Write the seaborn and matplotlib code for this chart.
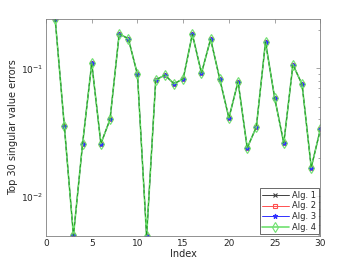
import numpy as np
import pandas as pd
import matplotlib
matplotlib.use("Agg")
import matplotlib.pyplot as plt
import seaborn as sns

# Values (all four algorithms coincide)
index = list(range(1, 31))
errors = [0.244, 0.0356, 0.00494, 0.0258, 0.110, 0.0258, 0.040, 0.186, 0.171, 0.0897,
          0.0049, 0.0815, 0.0886, 0.0759, 0.083, 0.185, 0.0919, 0.170, 0.0824, 0.041,
          0.079, 0.0239, 0.0349, 0.161, 0.0589, 0.0261, 0.107, 0.075, 0.0168, 0.0334]
algs = ["Alg. 1", "Alg. 2", "Alg. 3", "Alg. 4"]

sns.set_style("white")
plt.rcParams["font.family"] = ["DejaVu Sans"]

fig = plt.figure(figsize=(3.54, 2.66), dpi=100)
ax = fig.add_axes([0.130, 0.113, 0.775, 0.816])

styles = {
    "Alg. 1": dict(color="#404040", marker="x", mfc="none", lw=0.7, ms=3),
    "Alg. 2": dict(color="#ff5050", marker="s", mfc="none", lw=0.7, ms=2.6),
    "Alg. 3": dict(color="#3030ff", marker="*", mfc="#3030ff", lw=0.7, ms=3.5),
    "Alg. 4": dict(color="#70e070", marker="d", mfc="none", lw=1.2, ms=4.6),
}
for a in algs:
    df = pd.DataFrame({"Index": index, "err": errors})
    st = styles[a]
    sns.lineplot(data=df, x="Index", y="err", ax=ax, label=a, color=st["color"],
                 marker=st["marker"], markerfacecolor=st["mfc"],
                 markeredgecolor=st["color"], markersize=st["ms"], linewidth=st["lw"],
                 markeredgewidth=0.8)
# dark green core visible along the lines
ax.plot(index, errors, color="#1a9a1a", lw=0.6, dashes=(4, 3), zorder=3)

ax.set_yscale("log")
ax.set_xlim(0, 30)
ax.set_ylim(min(errors), max(errors))
ax.set_xticks([0, 5, 10, 15, 20, 25, 30])
ax.set_xlabel("Index", fontsize=7, labelpad=1)
ax.set_ylabel("Top 30 singular value errors", fontsize=7, labelpad=2)
ax.tick_params(axis="both", which="both", direction="in", top=True, right=True,
               labelsize=6.5, colors="#262626", pad=2)
ax.tick_params(which="major", length=3, width=0.5, color="#808080")
ax.tick_params(which="minor", length=1.8, width=0.5, color="#808080")
for s in ax.spines.values():
    s.set_color("#808080")
    s.set_linewidth(0.6)

leg = ax.legend(loc="lower right", fontsize=6, frameon=True, fancybox=False,
                borderpad=0.3, labelspacing=0.2, handlelength=3.2, handletextpad=0.4,
                borderaxespad=0.2)
leg.get_frame().set_edgecolor("#262626")
leg.get_frame().set_linewidth(0.6)

fig.savefig("out.png", dpi=100)
